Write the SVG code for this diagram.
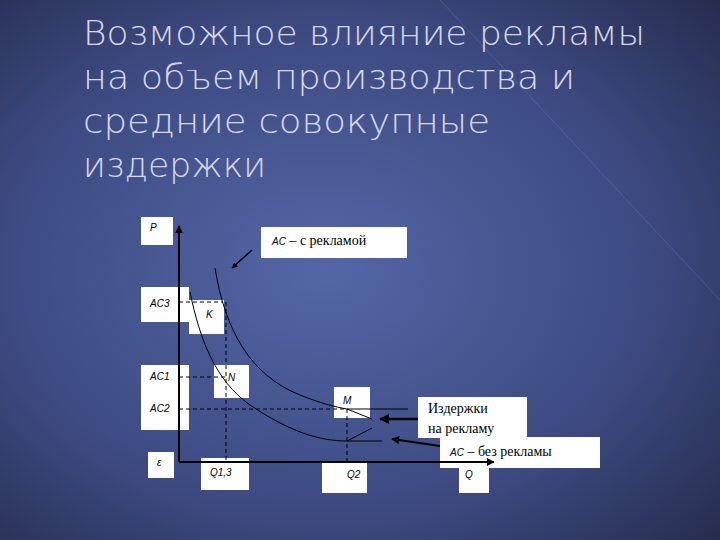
<svg xmlns="http://www.w3.org/2000/svg" width="720" height="540" viewBox="0 0 720 540">
<defs>
<radialGradient id="bg" cx="0.45" cy="0.5" r="0.75">
<stop offset="0" stop-color="#5367a6"/><stop offset="0.6" stop-color="#3d4a82"/><stop offset="1" stop-color="#262c4c"/>
</radialGradient>
<marker id="ar" viewBox="0 0 10 10" refX="9" refY="5" markerWidth="4" markerHeight="4" orient="auto"><path d="M0,0L10,5L0,10z" fill="#000"/></marker>
</defs>
<style>
.t{font-family:"DejaVu Sans",sans-serif;font-size:34px;fill:#d8d8e4;font-weight:200}
.b{fill:#fff}
.s{font-family:"Liberation Sans",Arial,sans-serif;font-size:10px;font-style:italic;fill:#000}
.r{font-family:"Liberation Serif","Times New Roman",serif;font-size:14px;fill:#000}
.d{stroke:#000;stroke-width:1;stroke-dasharray:4,3;fill:none}
.c{stroke:#000;stroke-width:1;fill:none}
</style>
<rect width="720" height="540" fill="url(#bg)"/>
<line x1="440" y1="0" x2="720" y2="300" stroke="#7d8cc4" stroke-width="1" opacity="0.3"/>
<g id="title">
<text class="t" x="83" y="45" textLength="562" lengthAdjust="spacingAndGlyphs">Возможное влияние рекламы</text>
<text class="t" x="83" y="89" textLength="492" lengthAdjust="spacingAndGlyphs">на объем производства и</text>
<text class="t" x="83" y="133" textLength="407" lengthAdjust="spacingAndGlyphs">средние совокупные</text>
<text class="t" x="83" y="177" textLength="183" lengthAdjust="spacingAndGlyphs">издержки</text>
</g>
<g id="labels">
<g id="P"><rect class="b" x="141" y="217" width="32" height="28"/><text class="s" x="150" y="231">P</text></g>
<g id="AC3"><rect class="b" x="141" y="287" width="48" height="35"/><text class="s" x="150" y="307">AC3</text></g>
<g id="K"><rect class="b" x="189" y="300" width="35" height="34"/><text class="s" x="206" y="318">K</text></g>
<g id="AC12"><rect class="b" x="141" y="365" width="48" height="65"/><text class="s" x="150" y="380">AC1</text><text class="s" x="150" y="412">AC2</text></g>
<g id="N"><rect class="b" x="214" y="365" width="35" height="33"/><text class="s" x="228" y="381">N</text></g>
<g id="M"><rect class="b" x="334" y="387" width="36" height="31"/><text class="s" x="343" y="404">M</text></g>
<g id="O"><rect class="b" x="148" y="452" width="26" height="26"/><text class="s" x="157" y="466">ε</text></g>
<g id="Q13"><rect class="b" x="201" y="458" width="48" height="32"/><text class="s" x="210" y="476">Q1,3</text></g>
<g id="Q2"><rect class="b" x="322" y="462" width="45" height="31"/><text class="s" x="347" y="478">Q2</text></g>
<g id="Q"><rect class="b" x="459" y="462" width="30" height="31"/><text class="s" x="465" y="478">Q</text></g>
<g id="ACwith"><rect class="b" x="261" y="227" width="146" height="31"/><text class="r" x="272" y="245"><tspan font-style="italic" font-family="Liberation Sans" font-size="10">AC</tspan> – с рекламой</text></g>
<g id="Izd"><rect class="b" x="418" y="397" width="109" height="41"/><text class="r" x="428" y="413">Издержки</text><text class="r" x="428" y="433">на рекламу</text></g>
<g id="ACwithout"><rect class="b" x="440" y="437" width="160" height="31"/><text class="r" x="450" y="456"><tspan font-style="italic" font-family="Liberation Sans" font-size="10">AC</tspan> – без рекламы</text></g>
</g>
<g id="connectors">
<line x1="179" y1="462" x2="179" y2="226" stroke="#000" stroke-width="2" marker-end="url(#ar)"/>
<line x1="179" y1="462" x2="494" y2="462" stroke="#000" stroke-width="2" marker-end="url(#ar)"/>
<path class="d" d="M179,302H223M179,377H226M179,409H347M226,302V462M347,409V462"/>
<path class="c" d="M215,268C225,330 250,375 300,395C320,403 335,407 347,409L372,419"/>
<path class="c" d="M347,409H408"/>
<path class="c" d="M190,292C200,340 215,380 250,405C290,432 320,441 347,441H382M347,441L372,428"/>
<line x1="252" y1="250" x2="232" y2="268" stroke="#000" stroke-width="1.5" marker-end="url(#ar)"/>
<line x1="418" y1="419" x2="380" y2="419" stroke="#000" stroke-width="2.5" marker-end="url(#ar)"/>
<line x1="440" y1="446" x2="392" y2="439" stroke="#000" stroke-width="2" marker-end="url(#ar)"/>
</g>
</svg>
